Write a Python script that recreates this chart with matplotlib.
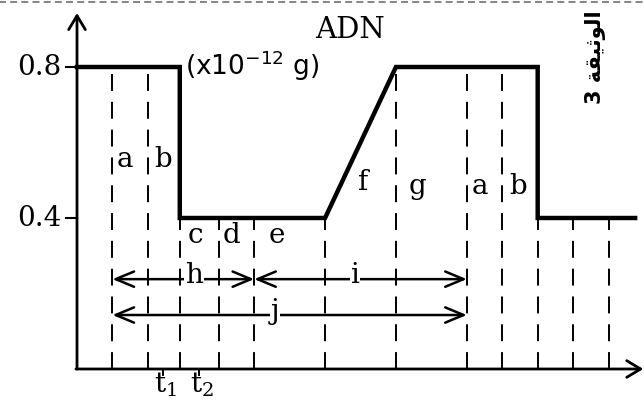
import matplotlib
matplotlib.use('Agg')
import matplotlib.pyplot as plt
import numpy as np

plt.rcParams['mathtext.fontset'] = 'dejavuserif'

# DNA quantity (x10^-12 g) along the time axis (arbitrary units)
dna_t = [0, 2.9, 2.9, 7, 9, 13, 13, 15.75]
dna_q = [0.8, 0.8, 0.4, 0.4, 0.8, 0.8, 0.4, 0.4]

# phase boundaries (dashed lines)
bounds = [1, 2, 2.9, 4, 5, 7, 9, 11, 12, 13, 14, 15]

# phase letters: (label, x, baseline y)
phase_labels = ['a', 'b', 'c', 'd', 'e', 'f', 'g', 'a', 'b']
phase_x = [1.36, 2.43, 3.33, 4.37, 5.64, 8.07, 9.6, 11.37, 12.45]
phase_y = [0.535, 0.535, 0.334, 0.334, 0.334, 0.474, 0.464, 0.464, 0.464]

# brackets h, i, j: (label, start, end, level)
spans = [('h', 1, 5, 0.238), ('i', 5, 11, 0.238), ('j', 1, 11, 0.143)]
span_label_x = [3.3, 7.85, 5.59]

yticks = [0.4, 0.8]
t_marks = [2.43, 3.44]
t_names = [r'$\mathrm{t}_1$', r'$\mathrm{t}_2$']

fig = plt.figure(figsize=(6.44, 4.01), dpi=100)
ax = fig.add_axes([0, 0, 1, 1])
ax.set_xlim(-2.173, 16.0)
ax.set_ylim(-0.0848, 0.9775)
ax.axis('off')

# top dashed border
ax.plot([-2.2, 16.1], [0.972, 0.972], color='#707070', lw=1.2, dashes=(4.2, 2.5))

# axes with arrows
ax.annotate('', xy=(0, 0.943), xytext=(0, 0),
            arrowprops=dict(arrowstyle='->,head_length=0.5,head_width=0.3', lw=2, color='black',
                            shrinkA=0, shrinkB=0, mutation_scale=20))
ax.annotate('', xy=(15.98, 0), xytext=(-0.03, 0),
            arrowprops=dict(arrowstyle='->,head_length=0.5,head_width=0.3', lw=2, color='black',
                            shrinkA=0, shrinkB=0, mutation_scale=20))

# dashed phase boundaries
for b in bounds:
    top = min(np.interp(b - 1e-6, dna_t, dna_q), np.interp(b + 1e-6, dna_t, dna_q))
    ax.plot([b, b], [0, top], color='black', lw=1.4, dashes=(8.7, 5.6))

# DNA curve
ax.plot(dna_t, dna_q, color='black', lw=3.2, solid_joinstyle='miter')

# y ticks
for v in yticks:
    ax.plot([-0.31, 0], [v, v], color='black', lw=1.5)
    ax.text(-0.45, v - 0.021, '%.1f' % v, ha='right', va='baseline',
            family='DejaVu Serif', fontsize=20)

# t1, t2 marks
for tm, nm in zip(t_marks, t_names):
    ax.plot([tm, tm], [0, -0.016], color='black', lw=1.4)
    ax.text(tm + 0.08, -0.0636, nm, ha='center', va='baseline', fontsize=20)

# phase letters
for lab, x, y in zip(phase_labels, phase_x, phase_y):
    ax.text(x, y, lab, ha='center', va='baseline', family='DejaVu Serif', fontsize=20)

# h, i, j brackets
for (lab, x0, x1, lev), lx in zip(spans, span_label_x):
    ax.annotate('', xy=(x1, lev), xytext=(x0, lev),
                arrowprops=dict(arrowstyle='<->,head_length=0.6,head_width=0.25', lw=1.8,
                                color='black', shrinkA=0, shrinkB=0, mutation_scale=22))
    ax.text(lx, lev - 0.01, lab, ha='center', va='baseline', family='DejaVu Serif',
            fontsize=20, bbox=dict(facecolor='white', edgecolor='none', pad=0.5))

# titles
ax.text(7.7, 0.877, 'ADN', ha='center', va='baseline', family='DejaVu Serif', fontsize=21)
ax.text(3.05, 0.779, r'(x10$^{\mathsf{-12}}$ g)', ha='left', va='baseline',
        family='DejaVu Sans', fontsize=19)

# document number (Arabic, shaped presentation forms in visual order)
ax.text(14.62, 0.826, '3 ﺔﻘﻴﺛﻮﻟﺍ', rotation=90, ha='center', va='center',
        family='DejaVu Sans', fontweight='bold', fontsize=15)

fig.savefig('out.png', dpi=100)
